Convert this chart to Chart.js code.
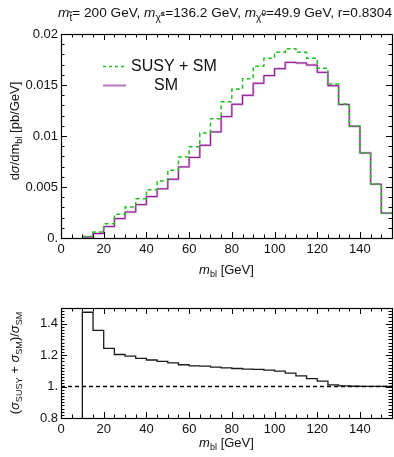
<!DOCTYPE html>
<html>
<head>
<meta charset="utf-8">
<script src="https://cdn.jsdelivr.net/npm/chart.js@4/dist/chart.umd.min.js"></script>
<style>
  html, body { margin: 0; padding: 0; background: #fff; }
  #wrap { position: relative; width: 394px; height: 457px; overflow: hidden; }
  #c1 { position: absolute; left: 0; top: 0; }
  #c2 { position: absolute; left: 0; top: 282px; }
</style>
</head>
<body>
<div id="wrap">
  <canvas id="c1" width="394" height="282"></canvas>
  <canvas id="c2" width="394" height="175"></canvas>
</div>
<script>
// ---------------- data ----------------
const binLowEdges = [10,15,20,25,30,35,40,45,50,55,60,65,70,75,80,85,90,95,100,105,110,115,120,125,130,135,140,145,150];
const histUpperEdge = 155;
const susyPlusSM = [0.00015,0.0006,0.0014,0.00232,0.00304,0.00385,0.00474,0.00559,0.00663,0.00794,0.00895,0.0103,0.0117,0.01336,0.01461,0.01562,0.01683,0.01762,0.0182,0.01856,0.0182,0.01762,0.01664,0.0151,0.01314,0.01098,0.00836,0.00529,0.00245];
const smOnly = [0.0001,0.00044,0.00112,0.0019,0.00255,0.00327,0.00406,0.00482,0.00576,0.00697,0.0079,0.00909,0.0104,0.0119,0.01311,0.01399,0.01517,0.01592,0.0166,0.01722,0.01716,0.01696,0.01624,0.01493,0.01309,0.01095,0.00834,0.00528,0.00244];
const ratioLowEdges = [5,10,15,20,25,30,35,40,45,50,55,60,65,70,75,80,85,90,95,100,105,110,115,120,125,130,135,140,145,150];
const ratioValues = [0,1.473,1.358,1.243,1.204,1.194,1.179,1.169,1.160,1.151,1.139,1.132,1.130,1.124,1.119,1.115,1.111,1.109,1.105,1.098,1.086,1.068,1.051,1.035,1.011,1.004,1.002,1.001,1.001,1.001];
const referenceLevel = 1;

const xTickValues = [0,20,40,60,80,100,120,140];
const xTickLabels = ['0','20','40','60','80','100','120','140'];
const xMinorStep = 5;
const topYTickValues = [0,0.005,0.01,0.015,0.02];
const topYTickLabels = ['0.','0.005','0.01','0.015','0.02'];
const topYMinorStep = 0.001;
const botYTickValues = [0.8,1.0,1.2,1.4];
const botYTickLabels = ['0.8','1.','1.2','1.4'];
const botYMinorStep = 0.02;

const legendLabels = ['SUSY + SM','SM'];

// ---------------- helpers ----------------
const FONT = '"Liberation Sans", Arial, Helvetica, sans-serif';
function histPoints(edges, vals, upper) {
  const pts = edges.map((e,i) => ({x: e, y: vals[i]}));
  pts.push({x: upper, y: vals[vals.length-1]});
  return pts;
}
// s = relative size factor, dy = relative offset factor
function segFont(s, base) {
  const size = base * (s.s || 1);
  return (s.i ? 'italic ' : '') + size.toFixed(2) + 'px ' + FONT;
}
function richWidth(ctx, segs, base) {
  let total = 0;
  segs.forEach(s => { ctx.font = segFont(s, base); total += ctx.measureText(s.t).width; });
  return total;
}
function drawRich(ctx, segs, x, y, base, align) {
  const total = richWidth(ctx, segs, base);
  let cx = align === 'center' ? x - total/2 : (align === 'right' ? x - total : x);
  ctx.textBaseline = 'alphabetic';
  ctx.textAlign = 'left';
  segs.forEach(s => {
    ctx.font = segFont(s, base);
    ctx.fillText(s.t, cx, y + (s.dy || 0) * base);
    cx += ctx.measureText(s.t).width;
  });
  return total;
}
function minorValues(min, max, step) {
  const out = [];
  const n = Math.round((max - min) / step);
  for (let k = 0; k <= n; k++) out.push(+(min + k*step).toFixed(6));
  return out;
}

function frameTicksPlugin(xMajors, xMinorStepV, yMajors, yMinorStepV) {
  return {
    id: 'frameTicks',
    afterDatasetsDraw(chart) {
      const {ctx, chartArea: a, scales} = chart;
      const xs = scales.x, ys = scales.y;
      ctx.save();
      ctx.strokeStyle = '#000';
      ctx.lineWidth = 1;
      const major = 6, minor = 3.5;
      ctx.beginPath();
      minorValues(xs.min, xs.max, xMinorStepV).forEach(v => {
        const isMaj = xMajors.some(m => Math.abs(m - v) < 1e-6);
        const L = isMaj ? major : minor;
        const px = Math.round(xs.getPixelForValue(v)) + 0.5;
        ctx.moveTo(px, a.bottom); ctx.lineTo(px, a.bottom - L);
        ctx.moveTo(px, a.top); ctx.lineTo(px, a.top + L);
      });
      minorValues(ys.min, ys.max, yMinorStepV).forEach(v => {
        const isMaj = yMajors.some(m => Math.abs(m - v) < 1e-6);
        const L = isMaj ? major : minor;
        const py = Math.round(ys.getPixelForValue(v)) + 0.5;
        ctx.moveTo(a.left, py); ctx.lineTo(a.left + L, py);
        ctx.moveTo(a.right, py); ctx.lineTo(a.right - L, py);
      });
      ctx.stroke();
      ctx.lineWidth = 1.2;
      ctx.strokeRect(Math.round(a.left)+0.5, Math.round(a.top)+0.5, Math.round(a.right - a.left), Math.round(a.bottom - a.top));
      ctx.restore();
    }
  };
}

function baseScales(yMin, yMax, yVals, yLabels, xAxisHeight, yAxisWidth) {
  return {
    x: {
      type: 'linear', min: 0, max: histUpperEdge,
      grid: { display: false, drawTicks: false },
      border: { display: false },
      afterBuildTicks: s => { s.ticks = xTickValues.map(v => ({value: v})); },
      afterFit: s => { s.height = xAxisHeight; },
      ticks: {
        autoSkip: false, maxRotation: 0, padding: 4, color: '#111',
        font: { family: FONT, size: 13 },
        callback: (v) => { const i = xTickValues.indexOf(v); return i >= 0 ? xTickLabels[i] : ''; }
      }
    },
    y: {
      type: 'linear', min: yMin, max: yMax,
      grid: { display: false, drawTicks: false },
      border: { display: false },
      afterBuildTicks: s => { s.ticks = yVals.map(v => ({value: v})); },
      afterFit: s => { s.width = yAxisWidth; },
      ticks: {
        autoSkip: false, padding: 3, color: '#111',
        font: { family: FONT, size: 13 },
        callback: (v) => { const i = yVals.findIndex(t => Math.abs(t - v) < 1e-9); return i >= 0 ? yLabels[i] : ''; }
      }
    }
  };
}

// ---------------- top chart ----------------
const topAnnotations = {
  id: 'topText',
  afterDraw(chart) {
    const ctx = chart.ctx;
    ctx.save();
    ctx.fillStyle = '#111';
    // title, fitted between x=58 and x=392
    const tSegs = [
      {t:'m', i:true}, {t:'t\u0303', s:0.75, dy:0.28}, {t:'= 200 GeV, '},
      {t:'m', i:true}, {t:'\u03C7\u0303', s:0.75, dy:0.28}, {t:'\u00B1', s:0.6, dy:-0.1}, {t:'=136.2 GeV, '},
      {t:'m', i:true}, {t:'\u03C7\u0303', s:0.75, dy:0.28}, {t:'0', s:0.6, dy:-0.1}, {t:'=49.9 GeV, r=0.8304'}
    ];
    const w1 = richWidth(ctx, tSegs, 10);
    const base = Math.min(13.8, 10 * (392 - 58) / w1);
    drawRich(ctx, tSegs, 392, 17, base, 'right');
    // x title
    const a = chart.chartArea;
    drawRich(ctx, [{t:'m', i:true}, {t:'bl', s:0.7, dy:0.25}, {t:' [GeV]'}], (a.left + a.right)/2, 274, 13, 'center');
    // y title
    ctx.translate(19, 131);
    ctx.rotate(-Math.PI/2);
    drawRich(ctx, [{t:'d'}, {t:'\u03C3', i:true}, {t:'/dm'}, {t:'bl', s:0.7, dy:0.25}, {t:' [pb/GeV]'}], 0, 0, 13, 'center');
    ctx.restore();
    // legend
    ctx.save();
    ctx.strokeStyle = '#22c022';
    ctx.lineWidth = 1.5;
    ctx.setLineDash([3,3]);
    ctx.beginPath(); ctx.moveTo(103, 66.5); ctx.lineTo(126, 66.5); ctx.stroke();
    ctx.setLineDash([]);
    ctx.strokeStyle = '#c07cc8';
    ctx.lineWidth = 2.2;
    ctx.beginPath(); ctx.moveTo(103, 85.5); ctx.lineTo(126, 85.5); ctx.stroke();
    ctx.fillStyle = '#111';
    ctx.font = '16px ' + FONT;
    ctx.textBaseline = 'middle';
    ctx.textAlign = 'left';
    ctx.fillText(legendLabels[0], 131, 67);
    ctx.fillText(legendLabels[1], 154, 86);
    ctx.restore();
  }
};

new Chart(document.getElementById('c1'), {
  type: 'line',
  data: {
    datasets: [
      { label: legendLabels[0], data: histPoints(binLowEdges, susyPlusSM, histUpperEdge), stepped: true,
        borderColor: '#22c022', borderWidth: 1.5, borderDash: [4,3], pointRadius: 0, fill: false, order: 0 },
      { label: legendLabels[1], data: histPoints(binLowEdges, smOnly, histUpperEdge), stepped: true,
        borderColor: '#8a128a', borderWidth: 1, pointRadius: 0, fill: false, order: 1 },
      { label: legendLabels[1] + ' shade', data: histPoints(binLowEdges, smOnly, histUpperEdge), stepped: true,
        borderColor: '#dcb4e0', borderWidth: 2.4, pointRadius: 0, fill: false, order: 2 }
    ]
  },
  options: {
    responsive: false, animation: false, devicePixelRatio: 1,
    parsing: false,
    layout: { padding: { top: 34, right: 2, left: 0, bottom: 0 } },
    plugins: { legend: { display: false }, tooltip: { enabled: false }, title: { display: false } },
    scales: baseScales(0, 0.02, topYTickValues, topYTickLabels, 44, 61)
  },
  plugins: [frameTicksPlugin(xTickValues, xMinorStep, topYTickValues, topYMinorStep), topAnnotations]
});

// ---------------- bottom chart ----------------
const botAnnotations = {
  id: 'botText',
  afterDraw(chart) {
    const ctx = chart.ctx;
    const a = chart.chartArea;
    ctx.save();
    ctx.fillStyle = '#111';
    drawRich(ctx, [{t:'m', i:true}, {t:'bl', s:0.7, dy:0.25}, {t:' [GeV]'}], (a.left + a.right)/2, 165, 13, 'center');
    ctx.translate(19, 81);
    ctx.rotate(-Math.PI/2);
    drawRich(ctx, [
      {t:'('}, {t:'\u03C3', i:true}, {t:'SUSY', s:0.7, dy:0.25}, {t:' + '}, {t:'\u03C3', i:true}, {t:'SM', s:0.7, dy:0.25},
      {t:')/'}, {t:'\u03C3', i:true}, {t:'SM', s:0.7, dy:0.25}
    ], 0, 0, 13, 'center');
    ctx.restore();
  }
};

new Chart(document.getElementById('c2'), {
  type: 'line',
  data: {
    datasets: [
      { label: 'ratio', data: histPoints(ratioLowEdges, ratioValues, histUpperEdge), stepped: true,
        borderColor: '#1a1a1a', borderWidth: 1.3, pointRadius: 0, fill: false, order: 1 },
      { label: 'unity', data: [{x: 0, y: referenceLevel}, {x: histUpperEdge, y: referenceLevel}],
        borderColor: '#000', borderWidth: 1.5, borderDash: [4,3], pointRadius: 0, fill: false, order: 0 }
    ]
  },
  options: {
    responsive: false, animation: false, devicePixelRatio: 1,
    parsing: false,
    layout: { padding: { top: 26, right: 2, left: 0, bottom: 0 } },
    plugins: { legend: { display: false }, tooltip: { enabled: false }, title: { display: false } },
    scales: baseScales(0.8, 1.5, botYTickValues, botYTickLabels, 39, 61)
  },
  plugins: [frameTicksPlugin(xTickValues, xMinorStep, botYTickValues, botYMinorStep), botAnnotations]
});
</script>
</body>
</html>
